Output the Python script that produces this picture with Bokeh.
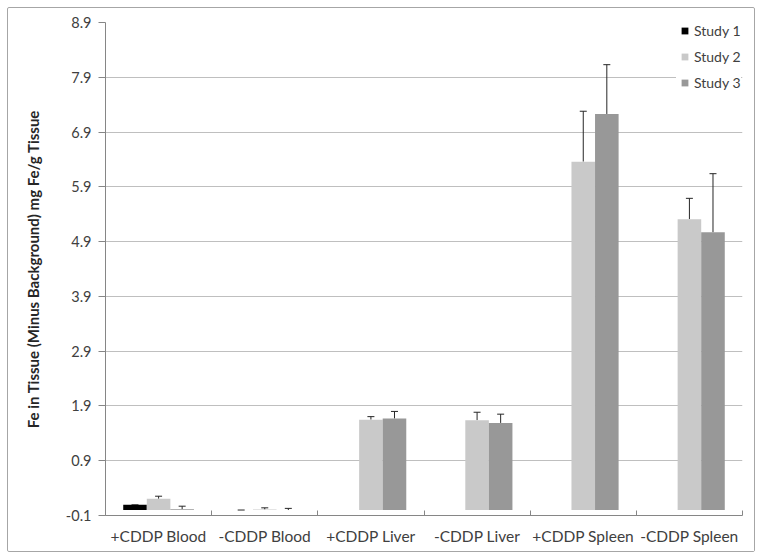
from bokeh.plotting import figure
from bokeh.models import (Range1d, FixedTicker, ColumnDataSource, Whisker, TeeHead,
                          Legend, LegendItem, PrintfTickFormatter)
from bokeh.embed import file_html
from bokeh.resources import INLINE

# ---- data ----
categories = ["+CDDP Blood", "-CDDP Blood", "+CDDP Liver", "-CDDP Liver", "+CDDP Spleen", "-CDDP Spleen"]
series_names = ["Study 1", "Study 2", "Study 3"]
study1 = [0.095, 0.0, None, None, None, None]
study1_err = [0.0, 0.0, None, None, None, None]
study2 = [0.205, 0.01, 1.65, 1.64, 6.36, 5.31]
study2_err = [0.047, 0.03, 0.055, 0.145, 0.92, 0.38]
study3 = [0.015, 0.0, 1.67, 1.59, 7.23, 5.07]
study3_err = [0.055, 0.03, 0.13, 0.16, 0.90, 1.07]
y_ticks = [-0.1, 0.9, 1.9, 2.9, 3.9, 4.9, 5.9, 6.9, 7.9, 8.9]
colors = ["#000000", "#c9c9c9", "#989898"]

FONT = "Lato"
TXT = "#404040"

p = figure(width=748, height=545, output_backend="svg", toolbar_location=None,
           x_range=Range1d(0, len(categories)), y_range=Range1d(y_ticks[0], y_ticks[-1]),
           min_border_left=97, min_border_right=14, min_border_top=14, min_border_bottom=38)
p.outline_line_color = None
p.background_fill_color = "white"
p.border_fill_color = "white"
p.styles = {"border": "1px solid #a6a6a6", "border-radius": "2px",
            "margin-left": "7px", "margin-top": "7px"}

bar_w = 0.222
offsets = [-bar_w, 0.0, bar_w]
all_vals = [study1, study2, study3]
all_errs = [study1_err, study2_err, study3_err]

legend_items = []
for k in range(3):
    xs, tops, lows, ups = [], [], [], []
    for i, v in enumerate(all_vals[k]):
        if v is None:
            continue
        xs.append(i + 0.5 + offsets[k])
        tops.append(v)
        lows.append(v)
        ups.append(v + all_errs[k][i])
    src = ColumnDataSource(data=dict(x=xs, top=tops, lower=lows, upper=ups))
    p.vbar(x="x", top="top", bottom=0, width=bar_w, source=src,
           fill_color=colors[k], line_color=None)
    w = Whisker(source=src, base="x", lower="lower", upper="upper", dimension="height",
                line_color="#262626", line_width=1, lower_head=None,
                upper_head=TeeHead(size=7, line_color="#262626", line_width=1))
    p.add_layout(w)
    proxy = p.scatter(x=[float("nan")], y=[float("nan")], marker="square",
                      fill_color=colors[k], line_color=None)
    legend_items.append(LegendItem(label=series_names[k], renderers=[proxy]))

legend = Legend(items=legend_items, location=(571, 424), glyph_width=17, glyph_height=17,
                label_height=17, spacing=9, padding=0, margin=0, label_standoff=1,
                border_line_color=None, background_fill_color="white", background_fill_alpha=1,
                label_text_font=FONT, label_text_font_size="14px", label_text_color=TXT)
p.add_layout(legend)

# x axis
xa = p.xaxis[0]
xa.ticker = FixedTicker(ticks=[i + 0.5 for i in range(len(categories))],
                        minor_ticks=list(range(len(categories) + 1)))
xa.major_label_overrides = {i + 0.5: c for i, c in enumerate(categories)}
xa.major_tick_in = 0
xa.major_tick_out = 0
xa.minor_tick_in = 5
xa.minor_tick_out = 0
xa.minor_tick_line_color = "#868686"
xa.axis_line_color = "#868686"
xa.major_label_text_font = FONT
xa.major_label_text_font_size = "15.5px"
xa.major_label_text_color = TXT
xa.major_label_standoff = 11

# y axis
ya = p.yaxis[0]
ya.ticker = FixedTicker(ticks=y_ticks)
ya.formatter = PrintfTickFormatter(format="%.1f")
ya.major_tick_in = 0
ya.major_tick_out = 7
ya.major_tick_line_color = "#868686"
ya.minor_tick_line_color = None
ya.axis_line_color = "#868686"
ya.major_label_text_font = FONT
ya.major_label_text_font_size = "14.5px"
ya.major_label_text_color = TXT
ya.major_label_standoff = 7
ya.axis_label = "Fe in Tissue (Minus Background) mg Fe/g Tissue"
ya.axis_label_text_font = FONT
ya.axis_label_text_font_size = "15px"
ya.axis_label_text_font_style = "bold"
ya.axis_label_text_color = "#262626"
ya.axis_label_standoff = 21

p.xgrid.grid_line_color = None
p.ygrid.grid_line_color = "#bfbfbf"

open("out.html", "w").write(file_html(p, INLINE))
